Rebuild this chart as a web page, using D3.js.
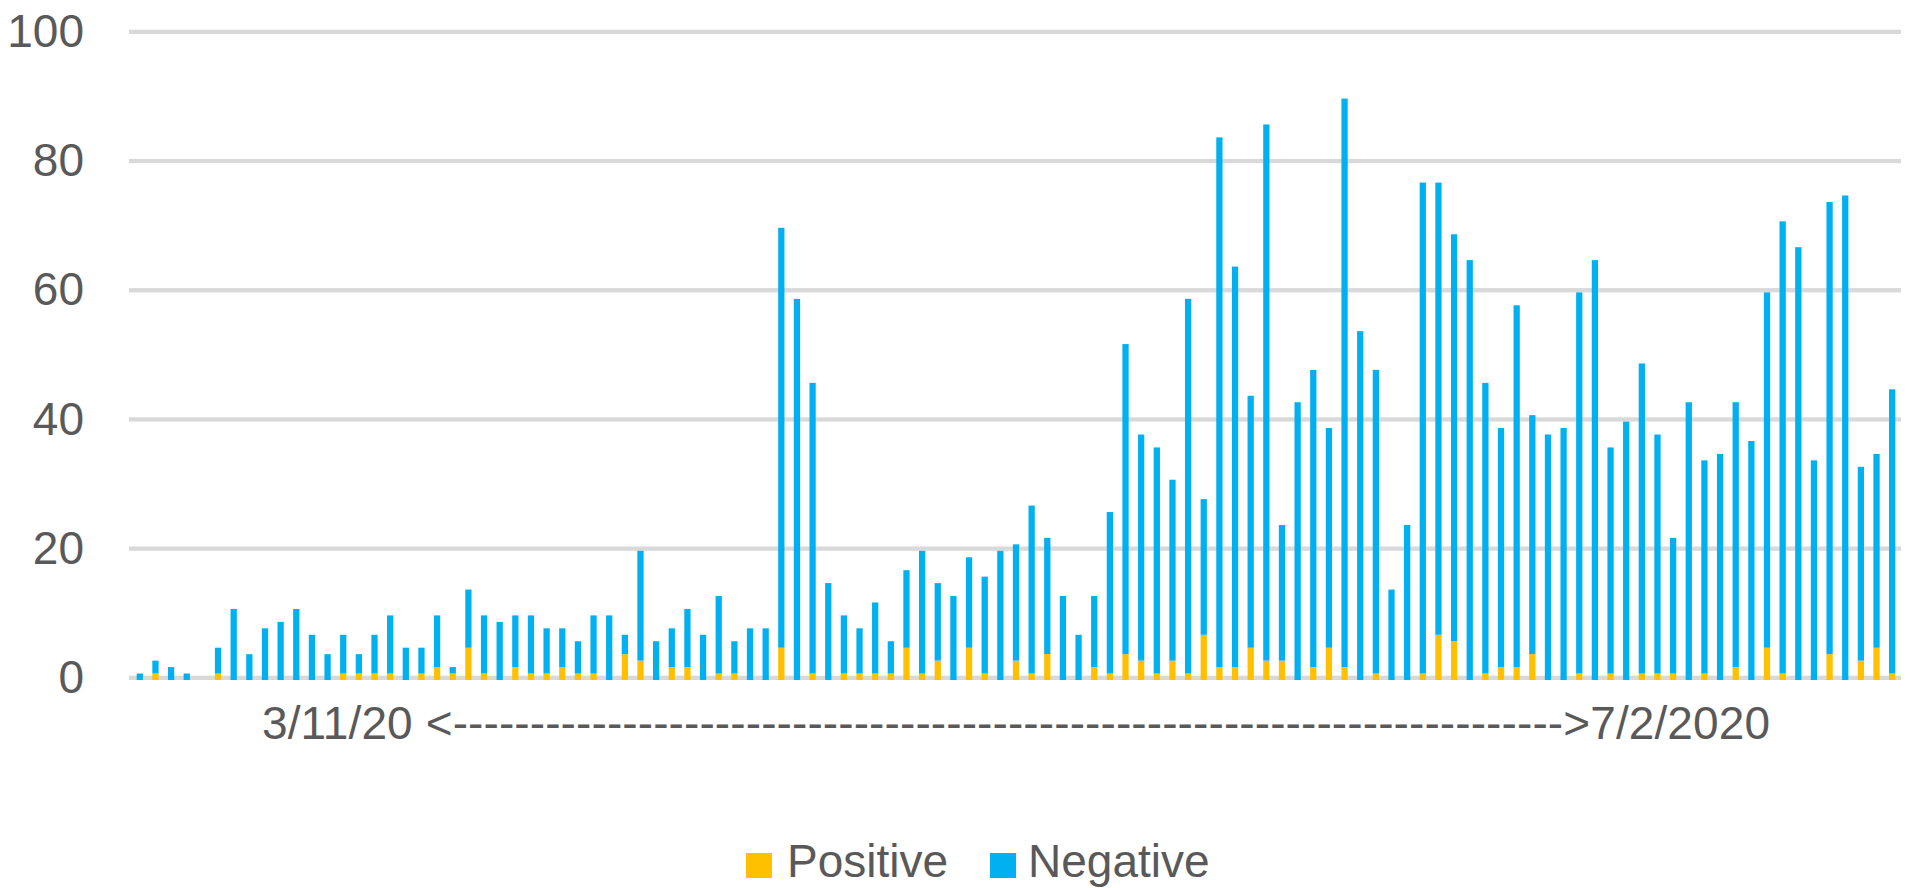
<!DOCTYPE html>
<html>
<head>
<meta charset="utf-8">
<script src="https://cdn.jsdelivr.net/npm/d3@7"></script>
<style>
  html, body { margin: 0; padding: 0; background: #ffffff; }
  svg { display: block; }
</style>
</head>
<body>
<svg id="chart" width="1912" height="888"></svg>
<script>
// ---- data ----
const positive = [0,1,0,0,0,1,0,0,0,0,0,0,0,1,1,1,1,0,1,2,1,5,1,0,2,1,1,2,1,1,0,4,3,0,2,2,0,1,1,0,0,5,0,1,0,1,1,1,1,5,1,3,0,5,1,0,3,1,4,0,0,2,1,4,3,1,3,1,7,2,2,5,3,3,0,2,5,2,0,1,0,0,1,7,6,0,1,2,2,4,0,0,1,0,1,0,1,1,1,0,1,0,2,0,5,1,0,0,4,0,3,5,1];
const negative = [1,2,2,1,0,4,11,4,8,9,11,7,4,6,3,6,9,5,4,8,1,9,9,9,8,9,7,6,5,9,10,3,17,6,6,9,7,12,5,8,8,65,59,45,15,9,7,11,5,12,19,12,13,14,15,20,18,26,18,13,7,11,25,48,35,35,28,58,21,82,62,39,83,21,43,46,34,88,54,47,14,24,76,70,63,65,45,37,56,37,38,39,59,65,35,40,48,37,21,43,33,35,41,37,55,70,67,34,70,75,30,30,44];
const seriesNames = ["Positive", "Negative"];
const seriesColors = ["#FFC000", "#00B0F0"];
const yTicks = [0, 20, 40, 60, 80, 100];
const axisTitle = "3/11/20 <" + "-".repeat(72) + ">7/2/2020";

// categories: consecutive days starting 3/11/2020
const start = new Date(2020, 2, 11);
const categories = d3.range(negative.length).map(i => {
  const d = d3.timeDay.offset(start, i);
  return (d.getMonth() + 1) + "/" + d.getDate() + "/" + d.getFullYear();
});

const rows = categories.map((c, i) => ({ cat: c, Positive: positive[i], Negative: negative[i] }));

// ---- layout ----
const svg = d3.select("#chart");
const FONT = "'Liberation Sans', Arial, sans-serif";
const plotLeft = 132, plotRight = 1900, gridLeft = 129, gridRight = 1901;

const x = d3.scaleBand().domain(categories).range([plotLeft, plotRight])
  .paddingInner(0.6).paddingOuter(0.3);
const y = d3.scaleLinear().domain([0, 100]).range([680, 34]);
const color = d3.scaleOrdinal().domain(seriesNames).range(seriesColors);

// gridlines
svg.append("g").selectAll("rect").data(yTicks).join("rect")
  .attr("x", gridLeft).attr("width", gridRight - gridLeft)
  .attr("y", d => y(d) - 4.3).attr("height", 4.3)
  .attr("fill", "#d9d9d9");

// y tick labels
svg.append("g").selectAll("text").data(yTicks).join("text")
  .attr("x", 84).attr("y", d => y(d) + 13)
  .attr("text-anchor", "end")
  .attr("font-family", FONT).attr("font-size", 46)
  .attr("fill", "#595959")
  .text(d => d);

// stacked bars
const stacked = d3.stack().keys(seriesNames)(rows);
svg.append("g").selectAll("g").data(stacked).join("g")
  .attr("fill", d => color(d.key))
  .selectAll("rect").data(d => d).join("rect")
  .attr("x", d => x(d.data.cat))
  .attr("width", x.bandwidth())
  .attr("y", d => y(d[1]))
  .attr("height", d => y(d[0]) - y(d[1]));

// axis title
svg.append("text")
  .attr("x", 262).attr("y", 739)
  .attr("textLength", 1508).attr("lengthAdjust", "spacing")
  .attr("font-family", FONT).attr("font-size", 46)
  .attr("fill", "#595959")
  .text(axisTitle);

// legend
const legendX = [746, 990];
const lg = svg.append("g").selectAll("g").data(seriesNames).join("g")
  .attr("transform", (d, i) => `translate(${legendX[i]},0)`);
lg.append("rect").attr("x", 0).attr("y", 853).attr("width", 26).attr("height", 25)
  .attr("fill", d => color(d));
lg.append("text").attr("x", (d, i) => i === 0 ? 41 : 38).attr("y", 877)
  .attr("font-family", FONT).attr("font-size", 46).attr("fill", "#595959")
  .text(d => d);
</script>
</body>
</html>
